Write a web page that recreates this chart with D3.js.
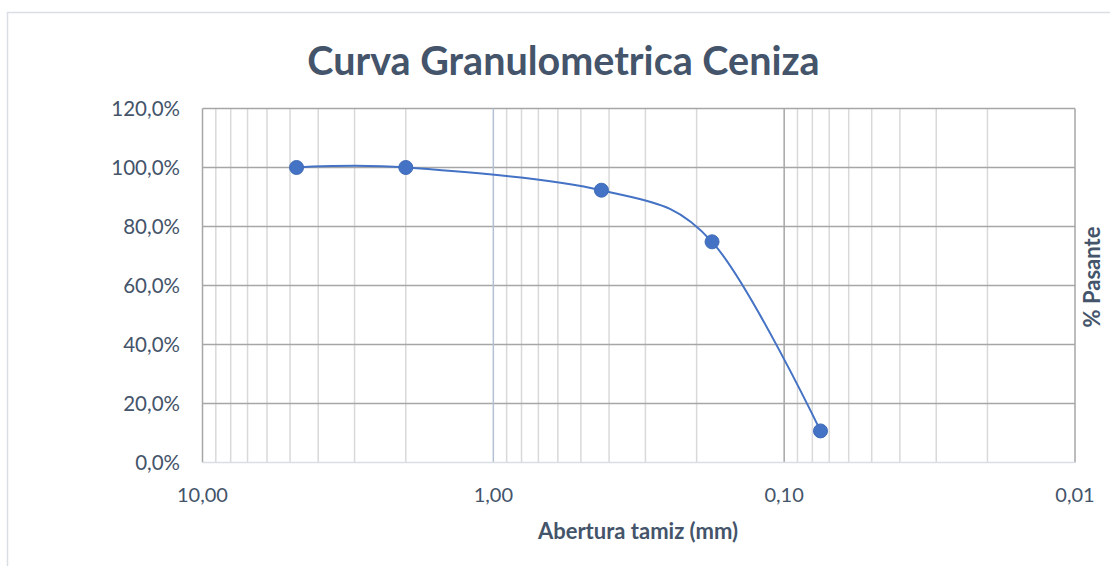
<!DOCTYPE html>
<html>
<head>
<meta charset="utf-8">
<script src="https://cdn.jsdelivr.net/npm/d3@7"></script>
<style>
  html, body { margin: 0; padding: 0; background: #ffffff; }
  svg { display: block; }
</style>
</head>
<body>
<svg id="chart" width="1110" height="566"></svg>
<script>
// ---- data ----
const aperturas = [4.75, 2.0, 0.425, 0.177, 0.075];          // mm
const pasante   = [100.0, 100.0, 92.3, 74.8, 10.7];           // %
const yTicks    = [0, 20, 40, 60, 80, 100, 120];
const xMajorTicks = [10, 1, 0.1, 0.01];
const titleText = "Curva Granulometrica Ceniza";
const xTitle = "Abertura tamiz (mm)";
const yTitle = "% Pasante";

// ---- layout ----
const W = 1110, H = 566;
const plot = { left: 202.5, right: 1075, top: 108.5, bottom: 462.5 };
const font = "Lato, 'Open Sans', sans-serif";
const textColor = "#44546a";

const svg = d3.select("#chart");

// outer chart border
svg.append("rect")
  .attr("x", 7.5).attr("y", 12.5)
  .attr("width", W + 20).attr("height", H + 20)
  .attr("fill", "#ffffff").attr("stroke", "#d9dde4").attr("stroke-width", 1.5);

const x = d3.scaleLog().domain([10, 0.01]).range([plot.left, plot.right]);
const y = d3.scaleLinear().domain([0, 120]).range([plot.bottom, plot.top]);

// minor vertical gridlines
const minorTicks = [];
[10, 1, 0.1].forEach(dec => {
  for (let k = 2; k <= 9; k++) minorTicks.push(dec / 10 * k);
});
svg.append("g").selectAll("line").data(minorTicks).join("line")
  .attr("x1", d => x(d)).attr("x2", d => x(d))
  .attr("y1", plot.top).attr("y2", plot.bottom)
  .attr("stroke", "#d9d9d9").attr("stroke-width", 1.5);

// horizontal gridlines
svg.append("g").selectAll("line").data(yTicks.filter(d => d > 0)).join("line")
  .attr("x1", plot.left).attr("x2", plot.right)
  .attr("y1", d => y(d)).attr("y2", d => y(d))
  .attr("stroke", "#a6a6a6").attr("stroke-width", 1.5);

// major vertical gridlines
const majorColor = { 10: "#a6a6a6", 1: "#b4c0d6", 0.1: "#a6a6a6", 0.01: "#a6a6a6" };
svg.append("g").selectAll("line").data(xMajorTicks).join("line")
  .attr("x1", d => x(d)).attr("x2", d => x(d))
  .attr("y1", plot.top).attr("y2", plot.bottom)
  .attr("stroke", d => majorColor[d]).attr("stroke-width", 1.5);

// bottom axis line
svg.append("line")
  .attr("x1", plot.left).attr("x2", plot.right)
  .attr("y1", plot.bottom).attr("y2", plot.bottom)
  .attr("stroke", "#d9dde4").attr("stroke-width", 1.5);

// y axis labels
const fmtPct = d => d.toFixed(1).replace(".", ",") + "%";
svg.append("g").selectAll("text").data(yTicks).join("text")
  .attr("x", 180).attr("y", d => y(d) + 7.5)
  .attr("text-anchor", "end")
  .attr("font-family", font).attr("font-size", 20.5)
  .attr("fill", textColor)
  .text(fmtPct);

// x axis labels
const fmtX = d => d.toFixed(2).replace(".", ",");
svg.append("g").selectAll("text").data(xMajorTicks).join("text")
  .attr("x", d => x(d)).attr("y", 502)
  .attr("text-anchor", "middle")
  .attr("font-family", font).attr("font-size", 20)
  .attr("fill", textColor)
  .text(fmtX);

// title
svg.append("text")
  .attr("x", 563.5).attr("y", 75)
  .attr("text-anchor", "middle")
  .attr("font-family", font).attr("font-weight", "bold").attr("font-size", 39.5)
  .attr("fill", textColor)
  .text(titleText);

// axis titles
svg.append("text")
  .attr("x", 638).attr("y", 539)
  .attr("text-anchor", "middle")
  .attr("font-family", font).attr("font-weight", "bold").attr("font-size", 22)
  .attr("fill", textColor)
  .text(xTitle);

svg.append("text")
  .attr("transform", "translate(1100,277) rotate(-90)")
  .attr("text-anchor", "middle")
  .attr("font-family", font).attr("font-weight", "bold").attr("font-size", 22)
  .attr("fill", textColor)
  .text(yTitle);

// data
const pts = aperturas.map((a, i) => [x(a), y(pasante[i])]);
const line = d3.line().curve(d3.curveCardinal.tension(0));
svg.append("path")
  .attr("d", line(pts))
  .attr("fill", "none")
  .attr("stroke", "#4472c4").attr("stroke-width", 2);

svg.append("g").selectAll("circle").data(aperturas).join("circle")
  .attr("cx", d => x(d))
  .attr("cy", (d, i) => y(pasante[i]))
  .attr("r", 7)
  .attr("fill", "#4472c4").attr("stroke", "#3f6bb8").attr("stroke-width", 1);
</script>
</body>
</html>
